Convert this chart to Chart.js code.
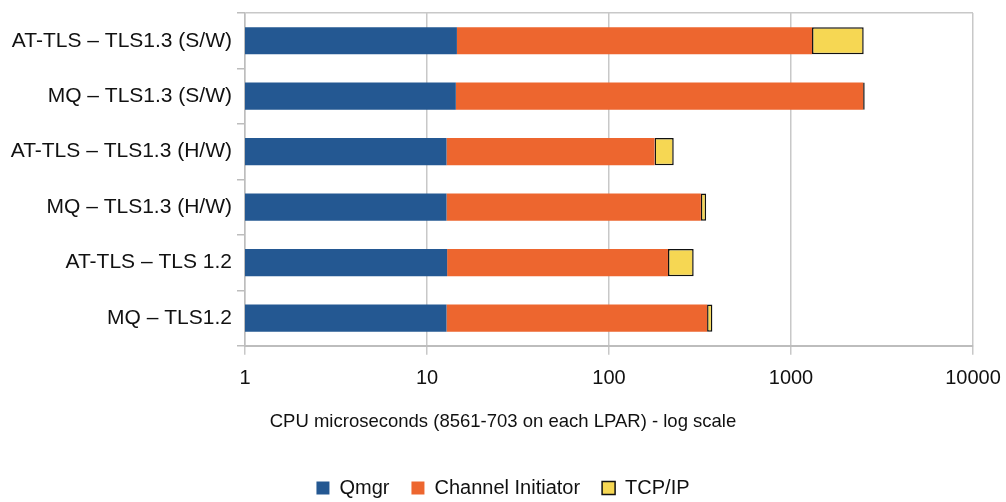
<!DOCTYPE html>
<html>
<head>
<meta charset="utf-8">
<script src="https://cdn.jsdelivr.net/npm/chart.js@4/dist/chart.umd.min.js"></script>
<style>
  html, body { margin: 0; padding: 0; background: #fff; }
  #wrap { width: 1006px; height: 502px; }
</style>
</head>
<body>
<div id="wrap"><canvas id="c" width="1006" height="502"></canvas></div>
<script>
const categories = [
  "AT-TLS \u2013 TLS1.3 (S/W)",
  "MQ \u2013 TLS1.3 (S/W)",
  "AT-TLS \u2013 TLS1.3 (H/W)",
  "MQ \u2013 TLS1.3 (H/W)",
  "AT-TLS \u2013 TLS 1.2",
  "MQ \u2013 TLS1.2"
];
const qmgr = [14.6, 14.4, 12.8, 12.8, 12.9, 12.8];
const channelInitiator = [1290, 2476, 165, 307, 198, 333];
const tcpip = [1204, 50, 49, 22, 81, 24];
const xTickValues = [1, 10, 100, 1000, 10000];
const xTitle = "CPU microseconds (8561-703 on each LPAR) - log scale";

const FONT = "'Liberation Sans', Arial, sans-serif";
const GRID = '#c8c8c8';

new Chart(document.getElementById('c'), {
  type: 'bar',
  data: {
    labels: categories,
    datasets: [
      { label: 'Qmgr', data: qmgr, backgroundColor: '#245892', borderWidth: 0 },
      { label: 'Channel Initiator', data: channelInitiator, backgroundColor: '#ED662F', borderWidth: 0 },
      { label: 'TCP/IP', data: tcpip, backgroundColor: '#F6D753', borderColor: '#111', borderWidth: 1.5, borderSkipped: false }
    ]
  },
  options: {
    indexAxis: 'y',
    responsive: false,
    animation: false,
    devicePixelRatio: 1,
    layout: { padding: { top: 13, right: 0, bottom: -6, left: 0 } },
    datasets: { bar: { categoryPercentage: 1, barPercentage: 0.49 } },
    plugins: {
      tooltip: { enabled: false },
      title: {
        display: true,
        text: xTitle,
        position: 'bottom',
        weight: 500,
        color: '#111',
        font: { family: FONT, size: 18.5, weight: 'normal' },
        padding: { top: 8, bottom: 23 }
      },
      legend: {
        position: 'bottom',
        weight: 3000,
        labels: {
          color: '#111',
          font: { family: FONT, size: 20 },
          boxWidth: 13, boxHeight: 13,
          padding: 22
        }
      }
    },
    scales: {
      x: {
        type: 'logarithmic',
        stacked: true,
        min: 1, max: 10000,
        afterBuildTicks: s => { s.ticks = xTickValues.map(v => ({ value: v })); },
        afterFit: s => { s.paddingLeft = 0; s.paddingRight = 33; },
        ticks: {
          color: '#111',
          font: { family: FONT, size: 20 },
          padding: 12,
          maxRotation: 0,
          autoSkip: false,
          callback: v => String(v)
        },
        grid: { color: GRID, lineWidth: 1.5, tickLength: 9, tickColor: GRID },
        border: { color: '#bdbdbd', width: 2 }
      },
      y: {
        stacked: true,
        offset: true,
        afterFit: s => { s.width = 245; s.paddingTop = 0; s.paddingBottom = 0; },
        ticks: { color: '#111', font: { family: FONT, size: 21 }, padding: 5 },
        grid: {
          offset: true,
          drawOnChartArea: true,
          tickLength: 8,
          color: ctx => ctx.index === 0 ? GRID : 'rgba(0,0,0,0)',
          tickColor: '#bdbdbd',
          lineWidth: 1.5
        },
        border: { color: '#bdbdbd', width: 1.5 }
      }
    }
  }
});
</script>
</body>
</html>
